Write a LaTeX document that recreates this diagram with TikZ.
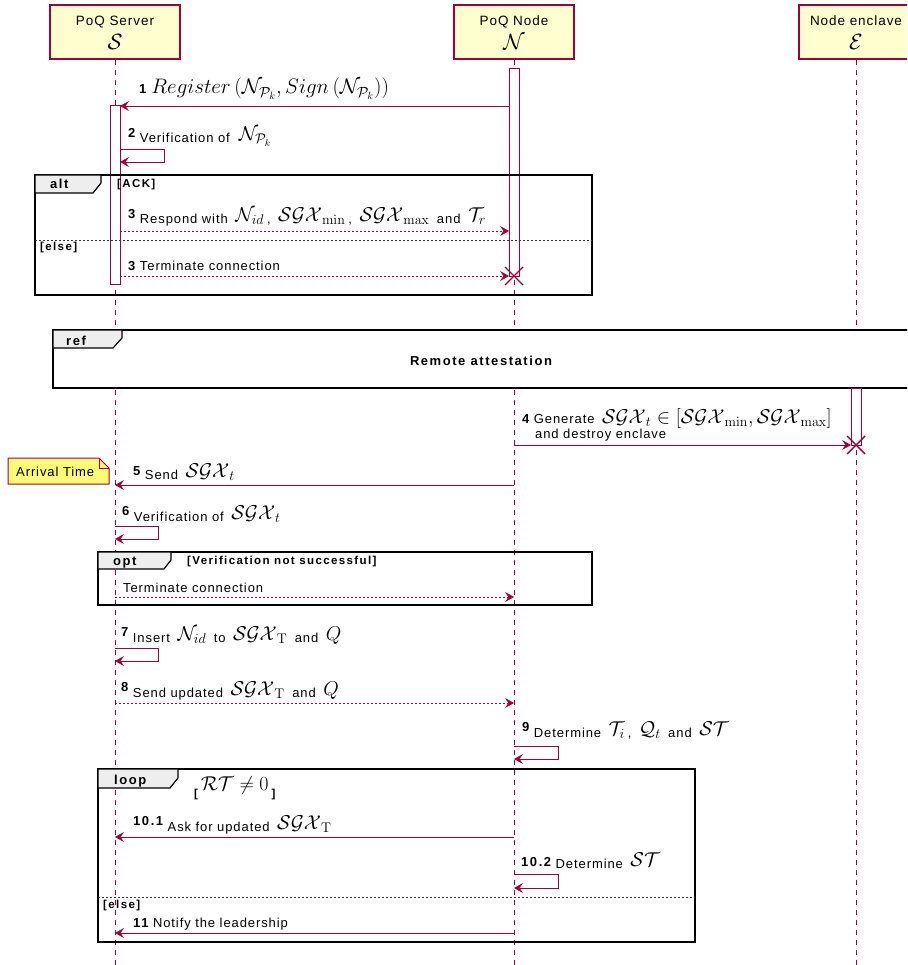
\RequirePackage{fix-cm}
\documentclass[tikz,border=0pt]{standalone}
\usepackage[no-math]{fontspec}
\setmainfont{Liberation Sans}[LetterSpace=7]
\newfontfamily\bsf{Liberation Sans}[LetterSpace=12]
\usetikzlibrary{arrows.meta}
\definecolor{pu}{HTML}{A80036}
\definecolor{hdr}{HTML}{FEFECE}
\definecolor{notec}{HTML}{FBFB77}
\definecolor{tabc}{HTML}{EEEEEE}
\newcommand\M[1]{\hspace{3pt}{\fontsize{20}{22}\selectfont\raisebox{2pt}{$#1$}}\hspace{3pt}}
\newcommand\HM[1]{{\fontsize{22}{24}\selectfont$#1$}}
\newcommand\Num[1]{{\bsf\bfseries\fontsize{13}{15}\selectfont #1}}
\newcommand\Rn[2][5.5pt]{\raisebox{#1}{\Num{#2}}}
\tikzset{
  life/.style={pu, dash pattern=on 5pt off 5pt, line width=0.8pt},
  hdrbox/.style={draw=pu, fill=hdr, line width=1.3pt, inner sep=0pt},
  msg/.style={pu, line width=0.9pt, -{Stealth[length=9pt,width=10pt,inset=3.5pt]}},
  rmsg/.style={msg, dash pattern=on 2pt off 2pt},
  frame/.style={line width=2pt, black},
  tabshape/.style={fill=tabc, draw=black, line width=1.2pt},
  sep/.style={black!80, line width=0.9pt, dash pattern=on 2pt off 2pt},
  lbl/.style={anchor=base west, inner sep=0pt, font=\fontsize{13}{15}\selectfont},
  ctext/.style={anchor=base, inner sep=0pt, font=\fontsize{13.5}{15}\selectfont},
  tabtext/.style={anchor=base west, inner sep=0pt, font=\bsf\bfseries\fontsize{13}{15}\selectfont},
  guard/.style={anchor=base west, inner sep=0pt, font=\bsf\bfseries\fontsize{11.5}{13}\selectfont},
  bar/.style={draw=pu, fill=white, line width=0.9pt},
  destroy/.style={pu, line width=1.4pt},
  notebox/.style={draw=pu, fill=notec, line width=1pt},
}
\begin{document}
\begin{tikzpicture}[x=1pt,y=-1pt]
\useasboundingbox (0,0) rectangle (907,965);
\clip (0,0) rectangle (907,965);
\fill[white] (0,0) rectangle (907,965);

% headers
\node[hdrbox, minimum width=130pt, minimum height=54pt] (hS) at (115,32) {};
\node[hdrbox, minimum width=120pt, minimum height=54pt] (hN) at (514,32) {};
\node[hdrbox, minimum width=114pt, minimum height=54pt] (hE) at (856,32) {};
\node[ctext] (hSt) at (115,26) {PoQ Server};
\node[ctext] (hSm) at (115,50) {\HM{\mathcal{S}}};
\node[ctext] (hNt) at (514,26) {PoQ Node};
\node[ctext] (hNm) at (514,50) {\HM{\mathcal{N}}};
\node[ctext] (hEt) at (856,26) {Node enclave};
\node[ctext] (hEm) at (856,50) {\HM{\mathcal{E}}};

% lifelines
\coordinate (sEnd) at (115,965);
\coordinate (nEnd) at (514,965);
\coordinate (eEnd) at (856,965);
\draw[life] (hS.south) -- (sEnd);
\draw[life] (hN.south) -- (nEnd);
\draw[life] (hE.south) -- (eEnd);

% ref frame (opaque)
\draw[frame, fill=white] (53,330) rectangle (925,388);
\draw[tabshape] (53,330) -- (122,330) -- (122,338) -- (113,348) -- (53,348) -- cycle;
\node[tabtext] (tref) at (66,345) {ref};
\node[anchor=base, inner sep=0pt, font=\bsf\bfseries\fontsize{13}{15}\selectfont] (ra) at (481,365) {Remote attestation};

% activation bars
\draw[bar] (110,105) rectangle (120,284);
\draw[bar] (509,68) rectangle (519,276);
\draw[bar] (851,388) rectangle (861,445);

% alt frame
\draw[frame] (35,175) rectangle (592,295);
\draw[tabshape] (35,175) -- (101,175) -- (101,183) -- (93,193) -- (35,193) -- cycle;
\node[tabtext] (talt) at (50,189) {alt};
\node[guard] (gack) at (117,188) {[ACK]};
\draw[sep] (35,240) -- (592,240);
\node[guard] (gelse1) at (40,251) {[else]};

% message 1
\coordinate (m1a) at (509,106);
\coordinate (m1b) at (120,106);
\draw[msg] (m1a) -- (m1b);
\node[lbl] (l1) at (139,94) {\Num{1}\hspace{5pt}{\fontsize{21}{23}\selectfont$Register\left(\mathcal{N}_{\mathcal{P}_k}, Sign\left(\mathcal{N}_{\mathcal{P}_k}\right)\right)$}};

% message 2
\coordinate (m2a) at (120,149);
\coordinate (m2b) at (120,162);
\draw[msg] (m2a) -- (164,149) -- (164,162) -- (m2b);
\node[lbl] (l2) at (128,143) {\Rn{2} Verification of\hspace{6pt}\M{\mathcal{N}_{\mathcal{P}_k}}};

% message 3 (ACK)
\coordinate (m3a) at (120,231);
\coordinate (m3b) at (509,231);
\draw[rmsg] (m3a) -- (m3b);
\node[lbl] (l3) at (128,224) {\Rn{3} Respond with \M{\mathcal{N}_{id}}, \M{\mathcal{SGX}_{\min}}, \M{\mathcal{SGX}_{\max}} and \M{\mathcal{T}_r}};

% message 3 (else)
\coordinate (m3c) at (120,276);
\coordinate (m3d) at (509,276);
\draw[rmsg] (m3c) -- (m3d);
\node[lbl] (l3b) at (128,271) {\Num{3} Terminate connection};
\coordinate (xN) at (514,276);
\draw[destroy] ([shift={(-9,-9)}]xN) -- ([shift={(9,9)}]xN);
\draw[destroy] ([shift={(-9,9)}]xN) -- ([shift={(9,-9)}]xN);

% message 4
\coordinate (m4a) at (514,445);
\coordinate (m4b) at (851,445);
\draw[msg] (m4a) -- (m4b);
\node[lbl] (l4) at (522,423) {\Num{4} Generate \raisebox{-2pt}{\M{\mathcal{SGX}_t \in [\mathcal{SGX}_{\min}, \mathcal{SGX}_{\max}]}}};
\node[lbl] (l4b) at (535,438) {and destroy enclave};
\coordinate (xE) at (856,445);
\draw[destroy] ([shift={(-9,-9)}]xE) -- ([shift={(9,9)}]xE);
\draw[destroy] ([shift={(-9,9)}]xE) -- ([shift={(9,-9)}]xE);

% note
\draw[notebox] (8,458) -- (99,458) -- (109,468) -- (109,484) -- (8,484) -- cycle;
\draw[notebox, fill=none] (99,458) -- (99,468) -- (109,468);
\node[lbl] (note) at (16,476) {Arrival Time};

% message 5
\coordinate (m5a) at (514,485);
\coordinate (m5b) at (115,485);
\draw[msg] (m5a) -- (m5b);
\node[lbl] (l5) at (133,479) {\Rn[4pt]{5} Send \M{\mathcal{SGX}_t}};

% message 6
\coordinate (m6a) at (115,526);
\coordinate (m6b) at (115,539);
\draw[msg] (m6a) -- (158,526) -- (158,539) -- (m6b);
\node[lbl] (l6) at (122,521) {\Rn{6} Verification of \M{\mathcal{SGX}_t}};

% opt frame
\draw[frame] (98,552) rectangle (592,605);
\draw[tabshape] (98,552) -- (171,552) -- (171,560) -- (164,569) -- (98,569) -- cycle;
\node[tabtext] (topt) at (113,565) {opt};
\node[guard] (gopt) at (187,564) {[Verification not successful]};
\coordinate (moa) at (115,597);
\coordinate (mob) at (514,597);
\draw[rmsg] (moa) -- (mob);
\node[lbl] (lo) at (123,592) {Terminate connection};

% message 7
\coordinate (m7a) at (115,648);
\coordinate (m7b) at (115,661);
\draw[msg] (m7a) -- (158,648) -- (158,661) -- (m7b);
\node[lbl] (l7) at (121,642) {\Rn{7} Insert \M{\mathcal{N}_{id}} to \M{\mathcal{SGX}_{\mathrm{T}}} and \M{Q}};

% message 8
\coordinate (m8a) at (115,703);
\coordinate (m8b) at (514,703);
\draw[rmsg] (m8a) -- (m8b);
\node[lbl] (l8) at (121,697) {\Rn{8} Send updated \M{\mathcal{SGX}_{\mathrm{T}}} and \M{Q}};

% message 9
\coordinate (m9a) at (514,746);
\coordinate (m9b) at (514,759);
\draw[msg] (m9a) -- (558,746) -- (558,759) -- (m9b);
\node[lbl] (l9) at (522,737) {\Rn{9} Determine \M{\mathcal{T}_i}, \M{\mathcal{Q}_t} and \M{\mathcal{ST}}};

% loop frame
\draw[frame] (98,769) rectangle (695,942);
\draw[tabshape] (98,769) -- (178,769) -- (178,778) -- (170,788) -- (98,788) -- cycle;
\node[tabtext] (tloop) at (114,784) {loop};
\node[guard] (gloop) at (194,797) {[\raisebox{5pt}{\M{\mathcal{RT}\neq 0}}]};

% message 10.1
\coordinate (m10a) at (514,837);
\coordinate (m10b) at (115,837);
\draw[msg] (m10a) -- (m10b);
\node[lbl] (l10) at (133,831) {\Rn{10.1} Ask for updated \M{\mathcal{SGX}_{\mathrm{T}}}};

% message 10.2
\coordinate (m102a) at (514,874);
\coordinate (m102b) at (514,888);
\draw[msg] (m102a) -- (558,874) -- (558,888) -- (m102b);
\node[lbl] (l102) at (521,868) {\Rn[2pt]{10.2} Determine \M{\mathcal{ST}}};

\draw[sep] (98,897) -- (695,897);
\node[guard] (gelse2) at (103,908) {[else]};

% message 11
\coordinate (m11a) at (514,933);
\coordinate (m11b) at (115,933);
\draw[msg] (m11a) -- (m11b);
\node[lbl] (l11) at (133,927) {\Num{11} Notify the leadership};
\end{tikzpicture}
\end{document}
